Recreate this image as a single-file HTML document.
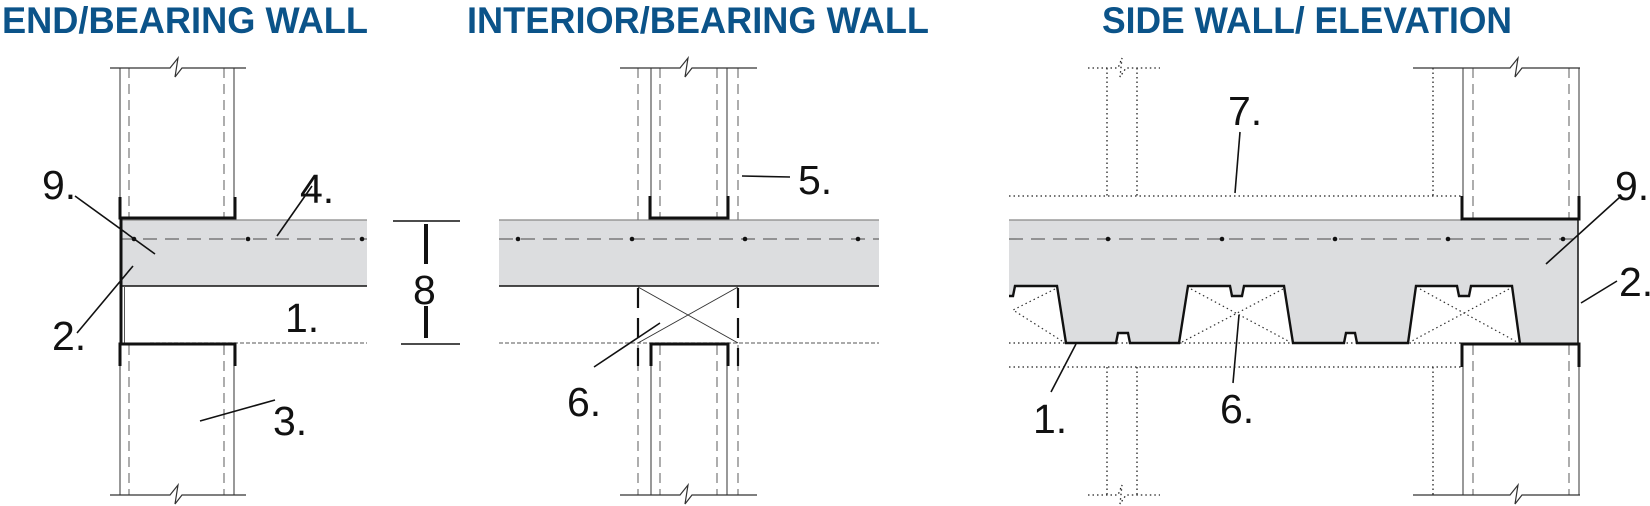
<!DOCTYPE html>
<html><head><meta charset="utf-8"><style>
html,body{margin:0;padding:0;background:#fff;}
svg{display:block;}
.t{font-family:"Liberation Sans",sans-serif;font-weight:bold;fill:#0b5389;font-size:37px;}
.l{font-family:"Liberation Sans",sans-serif;fill:#111;font-size:41px;}
</style></head><body>
<svg width="1650" height="506" viewBox="0 0 1650 506" xmlns="http://www.w3.org/2000/svg">
<text class="t" x="2" y="33" textLength="366" lengthAdjust="spacingAndGlyphs">END/BEARING WALL</text>
<text class="t" x="467" y="33" textLength="462" lengthAdjust="spacingAndGlyphs">INTERIOR/BEARING WALL</text>
<text class="t" x="1102" y="33" textLength="410" lengthAdjust="spacingAndGlyphs">SIDE WALL/ ELEVATION</text>

<!-- ========== LEFT ========== -->
<g fill="none">
<rect x="121" y="220" width="246" height="66" fill="#dcdddf"/>
<line x1="121" y1="220" x2="367" y2="220" stroke="#888" stroke-width="1.2"/>
<line x1="121" y1="286" x2="367" y2="286" stroke="#111" stroke-width="1.6"/>
<line x1="121" y1="239" x2="367" y2="239" stroke="#666" stroke-width="1.3" stroke-dasharray="14,8"/>
<g fill="#111"><circle cx="134" cy="239" r="2.3"/><circle cx="248" cy="239" r="2.3"/><circle cx="362" cy="239" r="2.3"/></g>
<line x1="121" y1="218" x2="121" y2="345" stroke="#111" stroke-width="3"/>
<line x1="124.5" y1="286" x2="124.5" y2="343" stroke="#555" stroke-width="1"/>
<line x1="150" y1="343" x2="367" y2="343" stroke="#777" stroke-width="1.3" stroke-dasharray="4,2"/>
<!-- walls -->
<g stroke="#555" stroke-width="1.2">
<line x1="120" y1="68" x2="120" y2="218"/><line x1="234" y1="68" x2="234" y2="218"/>
<line x1="120" y1="345" x2="120" y2="495"/><line x1="234" y1="345" x2="234" y2="495"/>
</g>
<g stroke="#777" stroke-width="1.2" stroke-dasharray="10,6">
<line x1="129" y1="68" x2="129" y2="218"/><line x1="224" y1="68" x2="224" y2="218"/>
<line x1="129" y1="345" x2="129" y2="495"/><line x1="224" y1="345" x2="224" y2="495"/>
</g>
<polyline points="110,68 170,68 178,58 175,77 182,68 246,68" stroke="#333" stroke-width="1.2"/>
<polyline points="110,495 170,495 178,485 175,504 182,495 246,495" stroke="#333" stroke-width="1.2"/>
<polyline points="120,197 120,218 235,218 235,197" stroke="#111" stroke-width="3"/>
<polyline points="120,366 120,344 235,344 235,366" stroke="#111" stroke-width="3"/>
<!-- dimension -->
<line x1="393" y1="221" x2="460" y2="221" stroke="#111" stroke-width="1.5"/>
<line x1="401" y1="344" x2="460" y2="344" stroke="#111" stroke-width="1.5"/>
<line x1="426" y1="224" x2="426" y2="264" stroke="#111" stroke-width="4"/>
<line x1="426" y1="306" x2="426" y2="338" stroke="#111" stroke-width="4"/>
<!-- leaders -->
<g stroke="#111" stroke-width="1.6">
<line x1="75" y1="196" x2="155" y2="254"/>
<line x1="312" y1="186" x2="277" y2="236"/>
<line x1="133" y1="266" x2="77" y2="333"/>
<line x1="200" y1="421" x2="275" y2="400"/>
</g>
</g>
<text class="l" x="42" y="199">9.</text>
<text class="l" x="300" y="203">4.</text>
<text class="l" x="52" y="350">2.</text>
<text class="l" x="285" y="332">1.</text>
<text class="l" x="273" y="435">3.</text>
<text class="l" x="413" y="304">8</text>

<!-- ========== MIDDLE ========== -->
<g fill="none">
<rect x="499" y="220" width="380" height="66" fill="#dcdddf"/>
<line x1="499" y1="220" x2="879" y2="220" stroke="#888" stroke-width="1.2"/>
<line x1="499" y1="286" x2="879" y2="286" stroke="#111" stroke-width="1.6"/>
<line x1="499" y1="239" x2="879" y2="239" stroke="#666" stroke-width="1.3" stroke-dasharray="14,8"/>
<g fill="#111"><circle cx="518" cy="239" r="2.3"/><circle cx="632" cy="239" r="2.3"/><circle cx="745" cy="239" r="2.3"/><circle cx="858" cy="239" r="2.3"/></g>
<line x1="499" y1="343" x2="879" y2="343" stroke="#777" stroke-width="1.3" stroke-dasharray="4,2"/>
<g stroke="#555" stroke-width="1.2">
<line x1="651" y1="68" x2="651" y2="218"/><line x1="727" y1="68" x2="727" y2="218"/>
<line x1="651" y1="345" x2="651" y2="495"/><line x1="727" y1="345" x2="727" y2="495"/>
</g>
<g stroke="#777" stroke-width="1.2" stroke-dasharray="10,6">
<line x1="638" y1="68" x2="638" y2="220"/><line x1="660" y1="68" x2="660" y2="218"/>
<line x1="717" y1="68" x2="717" y2="218"/><line x1="738" y1="68" x2="738" y2="220"/>
<line x1="638" y1="345" x2="638" y2="495"/><line x1="660" y1="345" x2="660" y2="495"/>
<line x1="717" y1="345" x2="717" y2="495"/><line x1="738" y1="345" x2="738" y2="495"/>
</g>
<g stroke="#111" stroke-width="2.2" stroke-dasharray="20,10">
<line x1="638" y1="288" x2="638" y2="366"/><line x1="738" y1="288" x2="738" y2="366"/>
</g>
<line x1="638" y1="287" x2="738" y2="343" stroke="#333" stroke-width="1"/>
<line x1="738" y1="287" x2="638" y2="343" stroke="#333" stroke-width="1"/>
<polyline points="620,68 680,68 688,58 685,77 692,68 757,68" stroke="#333" stroke-width="1.2"/>
<polyline points="620,495 680,495 688,485 685,504 692,495 757,495" stroke="#333" stroke-width="1.2"/>
<polyline points="650,196 650,218 728,218 728,196" stroke="#111" stroke-width="3"/>
<polyline points="651,366 651,344 728,344 728,366" stroke="#111" stroke-width="3"/>
<g stroke="#111" stroke-width="1.6">
<line x1="742" y1="176" x2="790" y2="177"/>
<line x1="660" y1="323" x2="594" y2="367"/>
</g>
</g>
<text class="l" x="798" y="194">5.</text>
<text class="l" x="567" y="416">6.</text>

<!-- ========== RIGHT ========== -->
<g fill="none">
<!-- dotted studs -->
<g stroke="#222" stroke-width="1.3" stroke-dasharray="1.5,3">
<line x1="1107" y1="68" x2="1107" y2="196"/><line x1="1137" y1="68" x2="1137" y2="196"/>
<line x1="1107" y1="367" x2="1107" y2="495"/><line x1="1137" y1="367" x2="1137" y2="495"/>
<line x1="1433" y1="68" x2="1433" y2="196"/><line x1="1433" y1="367" x2="1433" y2="495"/>
<polyline points="1088,68 1118,68 1122,58 1120,77 1126,68 1160,68"/>
<polyline points="1088,495 1118,495 1122,485 1120,504 1126,495 1160,495"/>
<line x1="1009" y1="196" x2="1462" y2="196"/>
<line x1="1009" y1="367" x2="1462" y2="367"/>
<line x1="1009" y1="343" x2="1462" y2="343"/>
</g>
<!-- slab with deck -->
<path d="M1009,220 L1578,220 L1578,344 L1520,344 L1512,286 L1471,286 L1469,296 L1459,296 L1457,286 L1416,286 L1408,343 L1357,343 L1355,333 L1346,333 L1344,343 L1293,343 L1284,286 L1244,286 L1242,296 L1232,296 L1230,286 L1188,286 L1179,343 L1130,343 L1128,333 L1118,333 L1116,343 L1066,343 L1057,286 L1015,286 L1013,296 L1009,296 Z" fill="#dcdddf"/>
<line x1="1009" y1="220" x2="1462" y2="220" stroke="#888" stroke-width="1.2"/>
<polyline points="1009,296 1013,296 1015,286 1057,286 1066,343 1116,343 1118,333 1128,333 1130,343 1179,343 1188,286 1230,286 1232,296 1242,296 1244,286 1284,286 1293,343 1344,343 1346,333 1355,333 1357,343 1408,343 1416,286 1457,286 1459,296 1469,296 1471,286 1512,286 1520,344 1579,344" stroke="#111" stroke-width="2.4" stroke-linejoin="miter"/>
<line x1="1009" y1="239" x2="1578" y2="239" stroke="#666" stroke-width="1.3" stroke-dasharray="14,8"/>
<g fill="#111"><circle cx="1108" cy="239" r="2.3"/><circle cx="1222" cy="239" r="2.3"/><circle cx="1335" cy="239" r="2.3"/><circle cx="1448" cy="239" r="2.3"/><circle cx="1563" cy="239" r="2.3"/></g>
<!-- dotted X in flutes -->
<g stroke="#333" stroke-width="1.2" stroke-dasharray="1.5,3">
<polyline points="1055,289 1013,310 1062,341"/>
<line x1="1191" y1="289" x2="1290" y2="342"/><line x1="1283" y1="289" x2="1182" y2="342"/>
<line x1="1420" y1="289" x2="1517" y2="342"/><line x1="1509" y1="289" x2="1410" y2="342"/>
</g>
<!-- right wall -->
<line x1="1578" y1="220" x2="1578" y2="344" stroke="#111" stroke-width="1.5"/>
<g stroke="#555" stroke-width="1.2">
<line x1="1463" y1="68" x2="1463" y2="196"/><line x1="1579" y1="68" x2="1579" y2="196"/>
<line x1="1463" y1="367" x2="1463" y2="495"/><line x1="1579" y1="367" x2="1579" y2="495"/>
</g>
<g stroke="#777" stroke-width="1.2" stroke-dasharray="10,6">
<line x1="1473" y1="68" x2="1473" y2="218"/><line x1="1569" y1="68" x2="1569" y2="218"/>
<line x1="1473" y1="345" x2="1473" y2="495"/><line x1="1569" y1="345" x2="1569" y2="495"/>
</g>
<polyline points="1413,68 1510,68 1518,58 1515,77 1522,68 1580,68" stroke="#333" stroke-width="1.2"/>
<polyline points="1413,495 1510,495 1518,485 1515,504 1522,495 1580,495" stroke="#333" stroke-width="1.2"/>
<polyline points="1462,196 1462,219 1579,219 1579,196" stroke="#111" stroke-width="3"/>
<polyline points="1462,367 1462,344 1579,344 1579,367" stroke="#111" stroke-width="3"/>
<g stroke="#111" stroke-width="1.6">
<line x1="1240" y1="132" x2="1235" y2="193"/>
<line x1="1620" y1="197" x2="1546" y2="264"/>
<line x1="1617" y1="281" x2="1581" y2="303"/>
<line x1="1076" y1="344" x2="1051" y2="392"/>
<line x1="1239" y1="315" x2="1233" y2="383"/>
</g>
</g>
<text class="l" x="1228" y="125">7.</text>
<text class="l" x="1615" y="200">9.</text>
<text class="l" x="1619" y="296">2.</text>
<text class="l" x="1033" y="433">1.</text>
<text class="l" x="1220" y="423">6.</text>
</svg>
</body></html>
